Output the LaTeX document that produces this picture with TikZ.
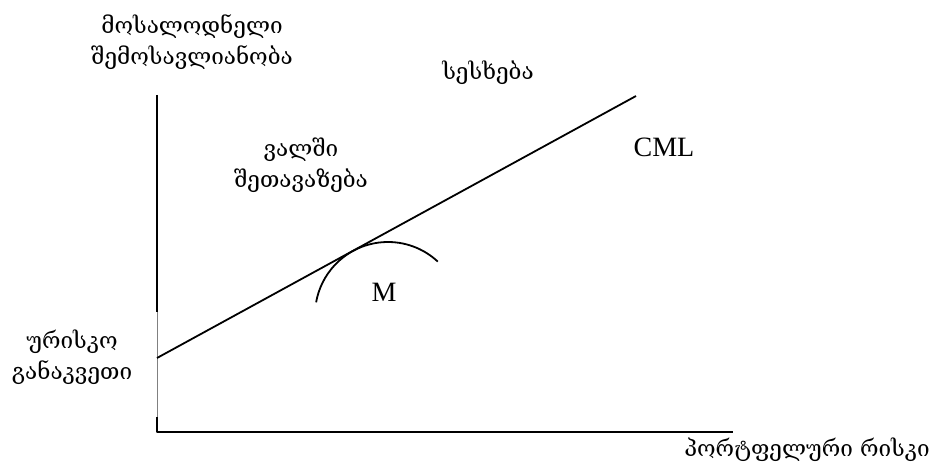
\documentclass[tikz,border=0pt]{standalone}
\usepackage{fontspec}
\setmainfont{Liberation Serif}
\newfontfamily\geofont{DejaVu Serif}
\usetikzlibrary{calc}

\begin{document}
\begin{tikzpicture}[
    x=1pt, y=1pt,
    line cap=butt,
    line join=round,
    geo/.style={font=\geofont\fontsize{22.5}{31}\selectfont, align=center, inner sep=0pt},
    lat/.style={font=\fontsize{28}{30}\selectfont, inner sep=0pt},
    axis/.style={line width=2pt, black},
    curve/.style={line width=1.8pt, black}
]
\useasboundingbox (0,0) rectangle (944,472);

%-----------------------
% 1) AXES
%-----------------------
\coordinate (origin) at (157,40);
\coordinate (ytop)   at (157,377);
\coordinate (ybreak) at (157,160);
\coordinate (ylow)   at (157,55);
\coordinate (xend)   at (733,40);

\draw[axis] (ytop) -- (ybreak);
\draw[gray, line width=0.7pt] (ybreak) -- (ylow);
\draw[axis] (ylow) -- (origin) -- (xend);

%-----------------------
% 2) CAPITAL MARKET LINE
%-----------------------
\coordinate (rf)     at (157,114);
\coordinate (cmlend) at (636,376);
\draw[curve] (rf) -- (cmlend);

% efficient frontier, touching the line at M
\coordinate (front) at ($(388,157)+(47:73)$);
\draw[curve] (front) arc (47:170:73);

%-----------------------
% 3) LABELS
%-----------------------
\node[geo] (retlabel)  at (192,430) {მოსალოდნელი\\შემოსავლიანობა};
\node[geo] (borrow)    at (488,399) {სესხება};
\node[geo] (lend)      at (301,307) {ვალში\\შეთავაზება};
\node[lat] (cml)       at (664,325) {CML};
\node[lat] (market)    at (384,180) {M};
\node[geo] (rflabel)   at (72,115)  {ურისკო\\განაკვეთი};
\node[geo] (risklabel) at (807,22)  {პორტფელური რისკი};

\end{tikzpicture}
\end{document}
